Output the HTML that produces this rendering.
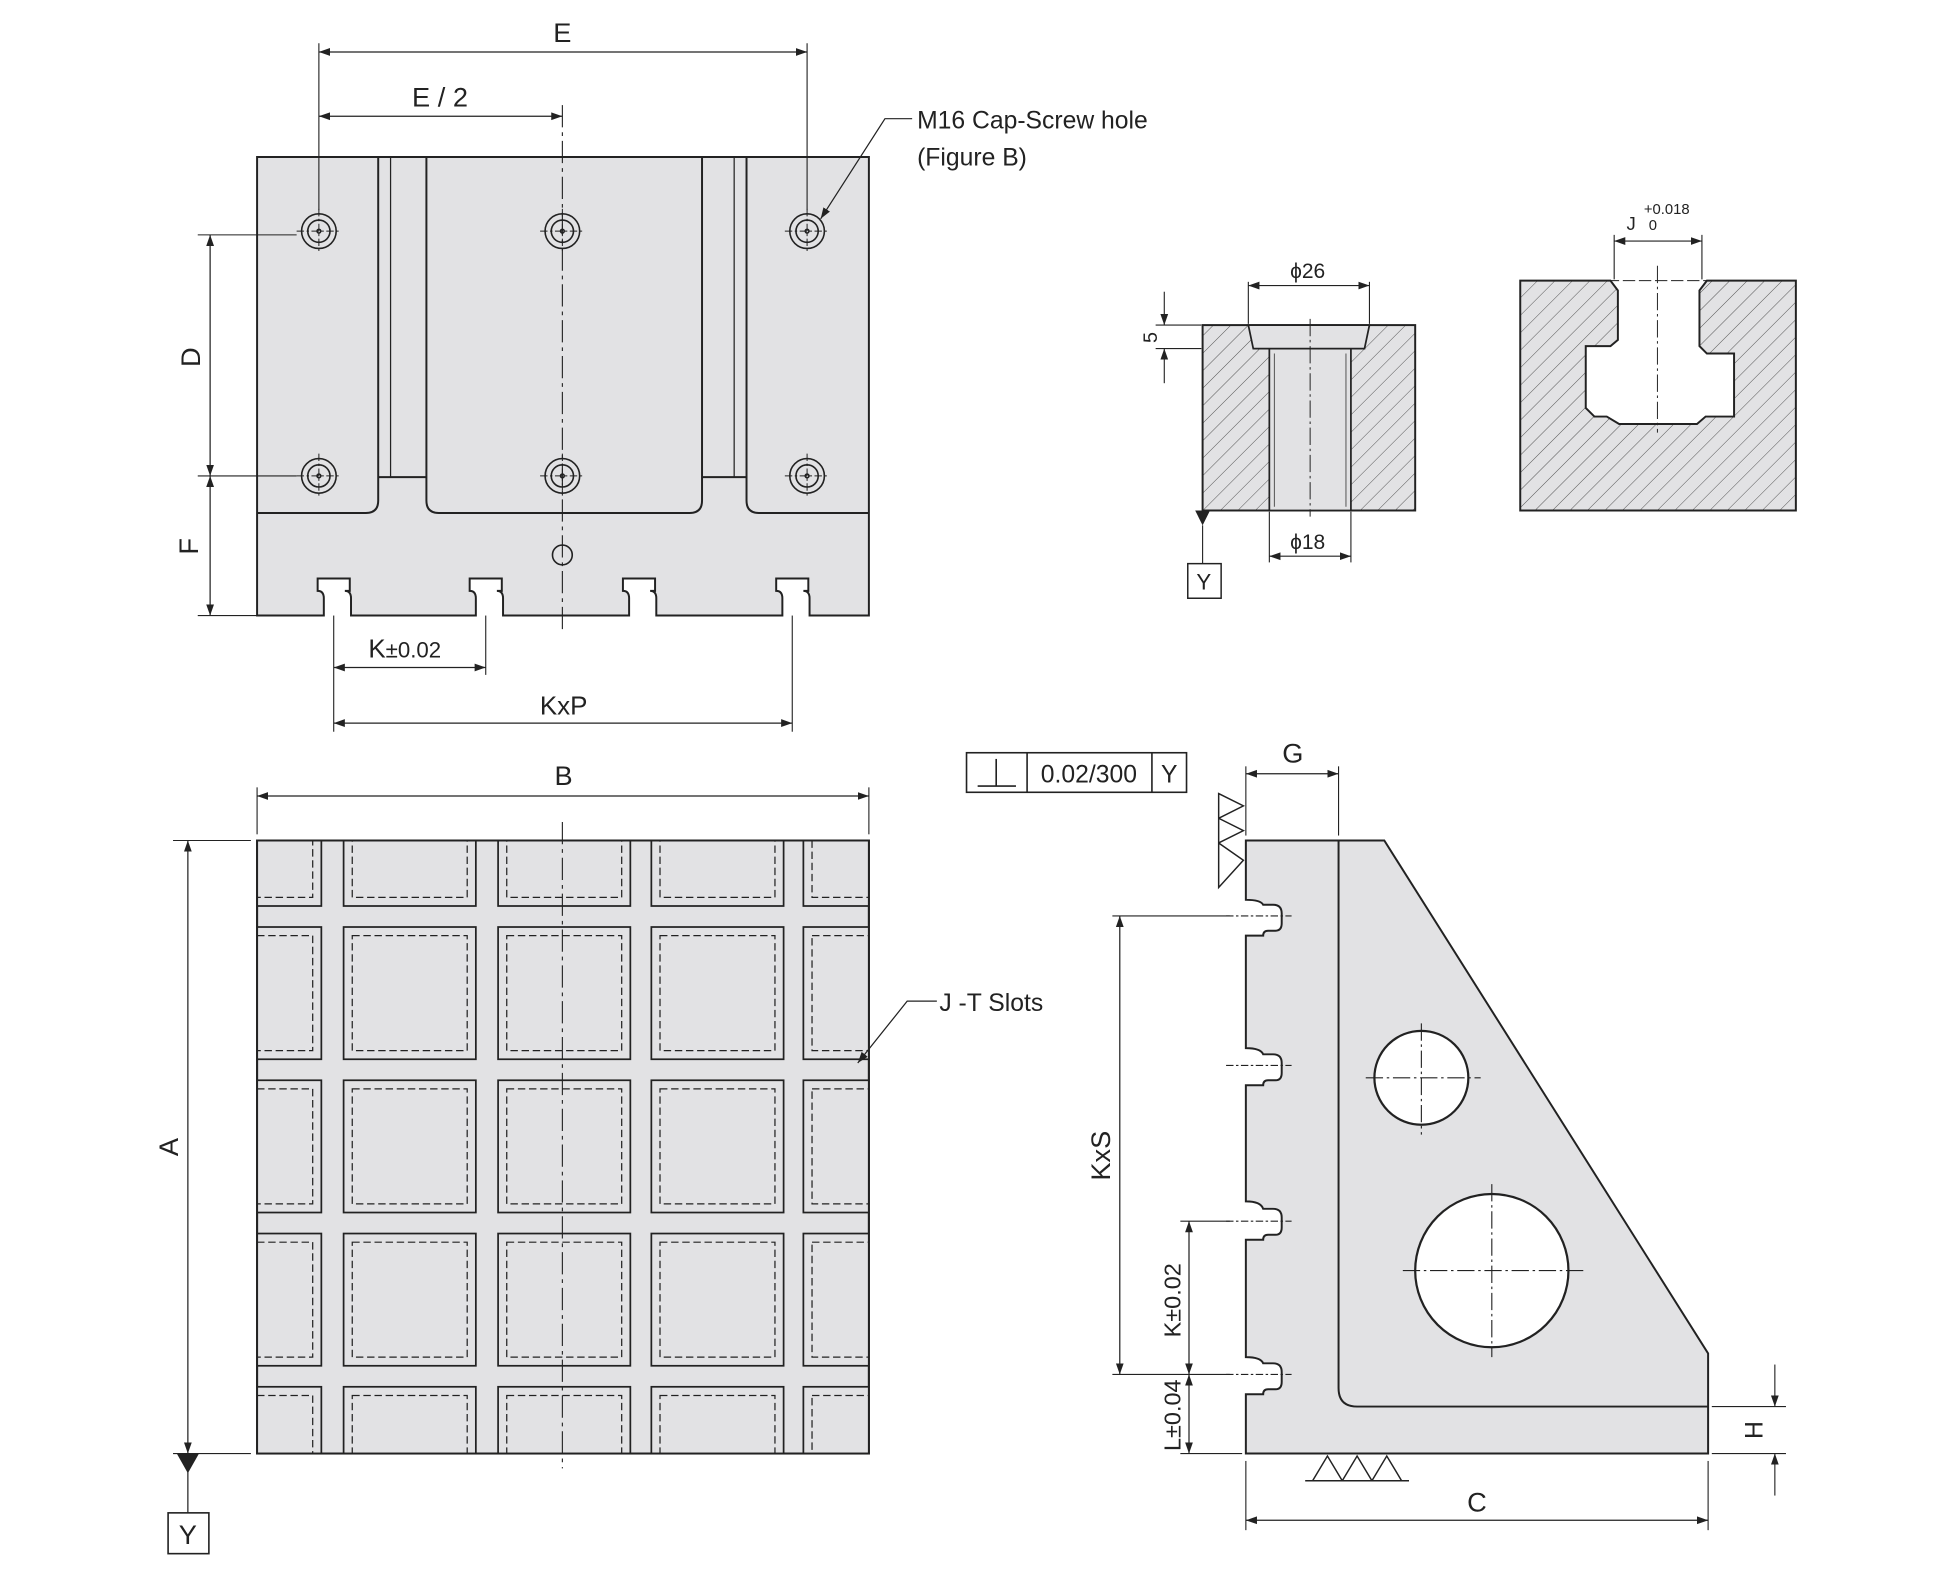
<!DOCTYPE html>
<html><head><meta charset="utf-8"><style>
html,body{margin:0;padding:0;background:#fff}
svg{display:block}
text{font-family:"Liberation Sans",sans-serif;fill:#222}
</style></head><body>
<svg width="1938" height="1592" viewBox="0 0 1568 1288" xmlns="http://www.w3.org/2000/svg">
<defs>
<marker id="a" viewBox="0 0 10 10" refX="10" refY="5" markerWidth="9" markerHeight="9" orient="auto-start-reverse" markerUnits="userSpaceOnUse"><path d="M0,1.5 L10,5 L0,8.5z" fill="#222"/></marker>
<pattern id="h" patternUnits="userSpaceOnUse" width="10" height="10" patternTransform="rotate(45)"><rect width="10" height="10" fill="#e2e2e4"/><line x1="0" y1="0" x2="0" y2="10" stroke="#555" stroke-width="0.8"/></pattern>
<g id="row" fill="#e2e2e4" stroke="#222" stroke-width="1.4">
<rect x="208" y="0" width="52" height="107"/><rect x="278" y="0" width="107" height="107"/><rect x="403" y="0" width="107" height="107"/><rect x="527" y="0" width="107" height="107"/><rect x="650" y="0" width="53" height="107"/>
<g fill="none" stroke-dasharray="6,3" stroke-width="1"><rect x="208" y="7" width="45" height="93"/><rect x="285" y="7" width="93" height="93"/><rect x="410" y="7" width="93" height="93"/><rect x="534" y="7" width="93" height="93"/><rect x="657" y="7" width="46" height="93"/></g>
</g>
<g id="hole" fill="none" stroke="#222" stroke-width="1.3"><circle r="14"/><circle r="9"/><circle r="1.5"/><line x1="-18" y1="0" x2="18" y2="0" stroke-dasharray="6,2,2,2" stroke-width="0.8"/><line x1="0" y1="-18" x2="0" y2="18" stroke-dasharray="6,2,2,2" stroke-width="0.8"/></g>
<clipPath id="gc"><rect x="208" y="680" width="495" height="496"/></clipPath>
</defs>
<g fill="#e2e2e4" stroke="#222" stroke-width="1.6">
<!-- TOP VIEW -->
<path d="M208,127 H703 V498 H655 V484 Q655,478 650,478 H654 V468 H628 V478 Q633,478 633,484 V498 H531 V484 Q531,478 526,478 H530 V468 H504 V478 Q509,478 509,484 V498 H407 V484 Q407,478 402,478 H406 V468 H380 V478 Q385,478 385,484 V498 H284 V484 Q284,478 279,478 H283 V468 H257 V478 Q262,478 262,484 V498 H208Z"/>
<path d="M208,127 H306 V405 Q306,415 296,415 H208" fill="none"/>
<path d="M345,127 V405 Q345,415 355,415 H558 Q568,415 568,405 V127" fill="none"/>
<path d="M703,415 H614 Q604,415 604,405 V127" fill="none"/>
<line x1="306" y1="386" x2="345" y2="386"/><line x1="568" y1="386" x2="604" y2="386"/>
<line x1="316" y1="127" x2="316" y2="386" stroke-width="1"/><line x1="594" y1="127" x2="594" y2="386" stroke-width="1"/>
</g>
<use href="#hole" x="258" y="187"/><use href="#hole" x="455" y="187"/><use href="#hole" x="653" y="187"/>
<use href="#hole" x="258" y="385"/><use href="#hole" x="455" y="385"/><use href="#hole" x="653" y="385"/>
<g fill="none" stroke="#222" stroke-width="1.3">
<circle cx="455" cy="449" r="8"/>
<line x1="455" y1="85" x2="455" y2="512" stroke-dasharray="18,4,3,4" stroke-width="0.9"/>
<g stroke-width="0.9">
<line x1="258" y1="35" x2="258" y2="170"/><line x1="653" y1="35" x2="653" y2="170"/>
<line x1="160" y1="190" x2="240" y2="190"/><line x1="160" y1="385" x2="240" y2="385"/><line x1="160" y1="498" x2="208" y2="498"/>
<line x1="270" y1="498" x2="270" y2="592"/><line x1="393" y1="498" x2="393" y2="546"/><line x1="641" y1="498" x2="641" y2="592"/>
</g>
<g stroke-width="1" marker-start="url(#a)" marker-end="url(#a)">
<line x1="258" y1="42" x2="653" y2="42"/><line x1="258" y1="94" x2="455" y2="94"/>
<line x1="170" y1="190" x2="170" y2="385"/><line x1="170" y1="385" x2="170" y2="498"/>
<line x1="270" y1="540" x2="393" y2="540"/><line x1="270" y1="585" x2="641" y2="585"/>
</g>
<polyline points="738,96 716,96 664,177" stroke-width="1" marker-end="url(#a)"/>
</g>
<text x="455" y="34" font-size="22" text-anchor="middle">E</text>
<text x="356" y="86" font-size="22" text-anchor="middle">E / 2</text>
<text x="742" y="104" font-size="20">M16 Cap-Screw hole</text>
<text x="742" y="134" font-size="20">(Figure B)</text>
<text x="162" y="289" font-size="22" text-anchor="middle" transform="rotate(-90 162 289)">D</text>
<text x="160" y="442" font-size="22" text-anchor="middle" transform="rotate(-90 160 442)">F</text>
<text x="298" y="532" font-size="21">K<tspan font-size="18">±0.02</tspan></text>
<text x="456" y="578" font-size="21" text-anchor="middle">KxP</text>

<!-- BOTTOM LEFT GRID -->
<rect x="208" y="680" width="495" height="496" fill="#e2e2e4" stroke="#222" stroke-width="1.6"/>
<g clip-path="url(#gc)">
<use href="#row" y="626"/><use href="#row" y="750"/><use href="#row" y="874"/><use href="#row" y="998"/><use href="#row" y="1122"/>
</g>
<rect x="208" y="680" width="495" height="496" fill="none" stroke="#222" stroke-width="1.6"/>
<g fill="none" stroke="#222">
<line x1="455" y1="665" x2="455" y2="1188" stroke-dasharray="18,4,3,4" stroke-width="0.9"/>
<g stroke-width="0.9"><line x1="208" y1="637" x2="208" y2="675"/><line x1="703" y1="637" x2="703" y2="675"/><line x1="140" y1="680" x2="203" y2="680"/><line x1="140" y1="1176" x2="203" y2="1176"/></g>
<g stroke-width="1" marker-start="url(#a)" marker-end="url(#a)"><line x1="208" y1="644" x2="703" y2="644"/><line x1="152" y1="680" x2="152" y2="1176"/></g>
<polyline points="758,810 734,810 694,860" stroke-width="1" marker-end="url(#a)"/>
<line x1="152" y1="1190" x2="152" y2="1224" stroke-width="1"/>
</g>
<path d="M143,1176 H161 L152,1192Z" fill="#222"/>
<rect x="136" y="1224" width="33" height="33" fill="#fff" stroke="#222" stroke-width="1.3"/>
<text x="152" y="1249" font-size="22" text-anchor="middle">Y</text>
<text x="456" y="635" font-size="22" text-anchor="middle">B</text>
<text x="144" y="928" font-size="22" text-anchor="middle" transform="rotate(-90 144 928)">A</text>
<text x="760" y="818" font-size="20">J -T Slots</text>

<!-- FIGURE B -->
<rect x="973" y="263" width="172" height="150" fill="url(#h)" stroke="#222" stroke-width="1.6"/>
<rect x="1027" y="282" width="66" height="131" fill="#e2e2e4" stroke="#222" stroke-width="1.4"/>
<path d="M1010,263 H1108 L1104,282 H1014Z" fill="#e2e2e4" stroke="#222" stroke-width="1.4"/>
<line x1="1031" y1="286" x2="1031" y2="410" stroke="#222" stroke-width="0.6"/><line x1="1089" y1="286" x2="1089" y2="410" stroke="#222" stroke-width="0.6"/>
<line x1="1060" y1="258" x2="1060" y2="418" stroke="#222" stroke-dasharray="14,3,2,3" stroke-width="0.8"/>
<g fill="none" stroke="#222" stroke-width="0.9">
<line x1="1010" y1="228" x2="1010" y2="262"/><line x1="1108" y1="228" x2="1108" y2="262"/>
<line x1="1027" y1="414" x2="1027" y2="455"/><line x1="1093" y1="414" x2="1093" y2="455"/>
<line x1="935" y1="263" x2="972" y2="263"/><line x1="935" y1="282" x2="972" y2="282"/>
<line x1="942" y1="236" x2="942" y2="263" marker-end="url(#a)"/><line x1="942" y1="310" x2="942" y2="282" marker-end="url(#a)"/>
<line x1="1010" y1="231" x2="1108" y2="231" marker-start="url(#a)" marker-end="url(#a)"/>
<line x1="1027" y1="450" x2="1093" y2="450" marker-start="url(#a)" marker-end="url(#a)"/>
<line x1="973" y1="425" x2="973" y2="456"/>
</g>
<path d="M967,413 H979 L973,425Z" fill="#222"/>
<rect x="961" y="456" width="27" height="28" fill="#fff" stroke="#222" stroke-width="1.2"/>
<text x="974" y="477" font-size="18" text-anchor="middle">Y</text>
<text x="1058" y="225" font-size="17" text-anchor="middle">ϕ26</text>
<text x="1058" y="444" font-size="17" text-anchor="middle">ϕ18</text>
<text x="936" y="273" font-size="16" text-anchor="middle" transform="rotate(-90 936 273)">5</text>

<path d="M1230,227 H1303 L1309,235 V275 L1303,280 H1283 V330 L1290,337 H1300 L1310,343 H1373 L1380,337 H1403 V286 H1381 L1375,280 V235 L1381,227 H1453 V413 H1230Z" fill="url(#h)" stroke="#222" stroke-width="1.6"/>
<line x1="1341" y1="215" x2="1341" y2="350" stroke="#222" stroke-dasharray="14,3,2,3" stroke-width="0.8"/>
<line x1="1300" y1="227" x2="1385" y2="227" stroke="#222" stroke-dasharray="10,3" stroke-width="0.8"/>
<g stroke="#222" stroke-width="0.9"><line x1="1306" y1="190" x2="1306" y2="226"/><line x1="1377" y1="190" x2="1377" y2="226"/>
<line x1="1306" y1="195" x2="1377" y2="195" marker-start="url(#a)" marker-end="url(#a)"/></g>
<text x="1316" y="186" font-size="15">J</text>
<text x="1330" y="173" font-size="12">+0.018</text>
<text x="1334" y="186" font-size="12">0</text>

<!-- SIDE VIEW -->
<path d="M1008,680 H1120 L1382,1095 V1176 H1008 V1128 H1022 Q1022,1124 1026,1124 H1032 Q1037,1124 1037,1118 V1110 Q1037,1103 1030,1103 H1022 Q1020,1098 1008,1098 V1003 H1022 Q1022,999 1026,999 H1032 Q1037,999 1037,993 V985 Q1037,978 1030,978 H1022 Q1020,972 1008,972 V878 H1022 Q1022,874 1026,874 H1032 Q1037,874 1037,868 V860 Q1037,853 1030,853 H1022 Q1020,848 1008,848 V757 H1022 Q1022,753 1026,753 H1032 Q1037,753 1037,747 V739 Q1037,732 1030,732 H1022 Q1020,728 1008,728Z" fill="#e2e2e4" stroke="#222" stroke-width="1.6"/>
<path d="M1083,680 V1123 Q1083,1138 1098,1138 H1382" fill="none" stroke="#222" stroke-width="1.6"/>
<circle cx="1150" cy="872" r="38" fill="#fff" stroke="#222" stroke-width="1.8"/>
<circle cx="1207" cy="1028" r="62" fill="#fff" stroke="#222" stroke-width="1.8"/>
<g stroke="#222" stroke-width="0.9" stroke-dasharray="14,3,2,3">
<line x1="1105" y1="872" x2="1198" y2="872"/><line x1="1150" y1="828" x2="1150" y2="918"/>
<line x1="1135" y1="1028" x2="1282" y2="1028"/><line x1="1207" y1="958" x2="1207" y2="1098"/>
<line x1="992" y1="741" x2="1045" y2="741" stroke-dasharray="6,2,2,2"/><line x1="992" y1="862" x2="1045" y2="862" stroke-dasharray="6,2,2,2"/><line x1="992" y1="988" x2="1045" y2="988" stroke-dasharray="6,2,2,2"/><line x1="992" y1="1112" x2="1045" y2="1112" stroke-dasharray="6,2,2,2"/>
</g>
<g fill="none" stroke="#222" stroke-width="0.9">
<line x1="900" y1="741" x2="995" y2="741"/><line x1="900" y1="1112" x2="995" y2="1112"/><line x1="955" y1="988" x2="995" y2="988"/><line x1="955" y1="1176" x2="1005" y2="1176"/>
<line x1="1008" y1="620" x2="1008" y2="676"/><line x1="1083" y1="620" x2="1083" y2="676"/>
<line x1="1008" y1="1182" x2="1008" y2="1238"/><line x1="1382" y1="1182" x2="1382" y2="1238"/>
<line x1="1385" y1="1138" x2="1445" y2="1138"/><line x1="1385" y1="1176" x2="1445" y2="1176"/>
<g stroke-width="1" marker-start="url(#a)" marker-end="url(#a)">
<line x1="906" y1="741" x2="906" y2="1112"/><line x1="962" y1="988" x2="962" y2="1112"/><line x1="962" y1="1112" x2="962" y2="1176"/>
<line x1="1008" y1="626" x2="1083" y2="626"/><line x1="1008" y1="1230" x2="1382" y2="1230"/>
</g>
<line x1="1436" y1="1104" x2="1436" y2="1138" marker-end="url(#a)"/><line x1="1436" y1="1210" x2="1436" y2="1176" marker-end="url(#a)"/>
<path d="M986,642 L1006,652 L986,662 Z M986,662 L1006,672 L986,682 Z M986,682 L1006,696 L986,718 Z" stroke-width="1.2"/>
<path d="M1062,1198 L1074,1178 L1086,1198 Z M1086,1198 L1098,1178 L1110,1198 Z M1110,1198 L1122,1178 L1134,1198 Z" stroke-width="1.2"/>
<line x1="1056" y1="1198" x2="1140" y2="1198" stroke-width="1.2"/>
</g>
<g fill="#fff" stroke="#222" stroke-width="1.3"><rect x="782" y="609" width="178" height="32"/><line x1="831" y1="609" x2="831" y2="641"/><line x1="932" y1="609" x2="932" y2="641"/></g>
<g stroke="#222" stroke-width="1.3"><line x1="791" y1="636" x2="822" y2="636"/><line x1="806" y1="614" x2="806" y2="636"/></g>
<text x="881" y="633" font-size="20" text-anchor="middle">0.02/300</text>
<text x="946" y="633" font-size="20" text-anchor="middle">Y</text>
<text x="1046" y="617" font-size="22" text-anchor="middle">G</text>
<text x="1195" y="1223" font-size="22" text-anchor="middle">C</text>
<text x="898" y="935" font-size="22" text-anchor="middle" transform="rotate(-90 898 935)">KxS</text>
<text x="955" y="1052" font-size="19" text-anchor="middle" transform="rotate(-90 955 1052)">K±0.02</text>
<text x="955" y="1145" font-size="19" text-anchor="middle" transform="rotate(-90 955 1145)">L±0.04</text>
<text x="1426" y="1157" font-size="20" text-anchor="middle" transform="rotate(-90 1426 1157)">H</text>
</svg>
</body></html>
